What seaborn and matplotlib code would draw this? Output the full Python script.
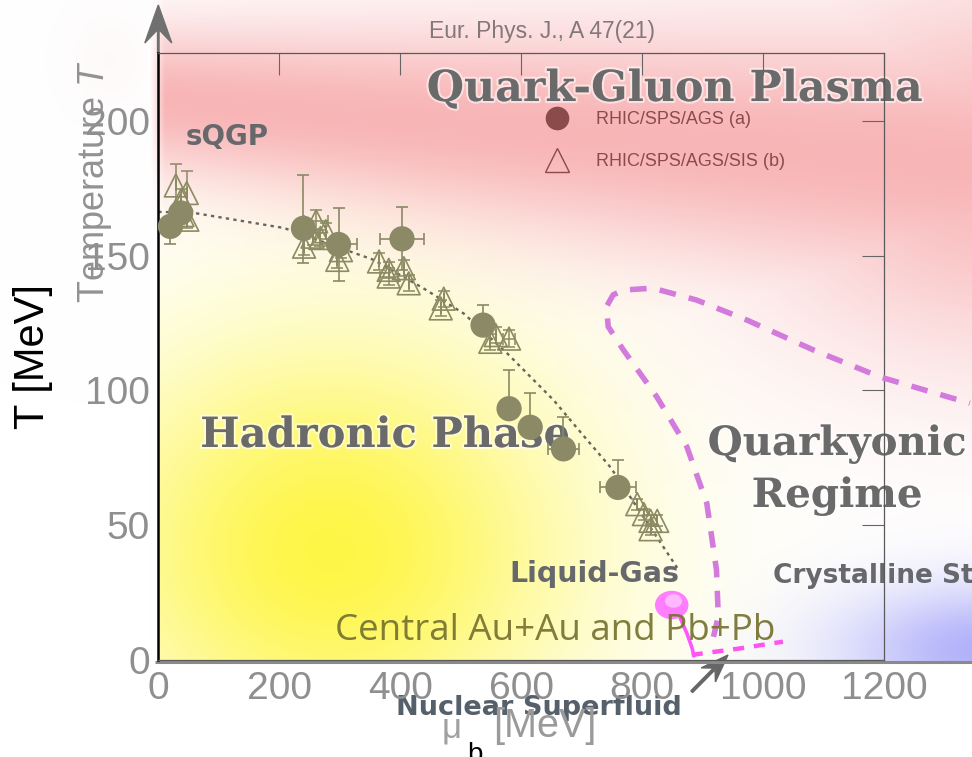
import numpy as np
import matplotlib
matplotlib.use("Agg")
import matplotlib.pyplot as plt
import matplotlib.patheffects as pe
from matplotlib.patches import Ellipse, FancyArrow
from matplotlib.lines import Line2D
import seaborn as sns

sns.set_theme(style="white")
plt.rcParams["font.family"] = ["Liberation Sans", "DejaVu Sans"]
plt.rcParams["mathtext.fontset"] = "custom"
plt.rcParams["mathtext.rm"] = "Liberation Sans"
plt.rcParams["mathtext.it"] = "Liberation Sans:italic"

# ---------------- data ----------------
# (a) RHIC/SPS/AGS  - filled circles
mu_a = [20, 37, 240, 298, 403, 537, 580, 615, 670, 760]
T_a = [160.8, 165.8, 160.1, 154.1, 156.2, 124.2, 93.2, 86.3, 78.3, 64.0]
T_a_lo = [6.4, 0, 12.9, 13.4, 11.5, 0, 0, 0, 0, 0]
T_a_hi = [0, 0, 19.7, 13.4, 11.7, 7.4, 14.2, 12.8, 11.8, 10.0]
mu_a_err = [0, 0, 0, 30, 36, 0, 15, 15, 25, 30]

# (b) RHIC/SPS/AGS/SIS - open triangles
mu_b = [29, 47, 38, 40, 48, 241, 255, 261, 268, 277, 296, 302,
        365, 381, 381, 406, 414, 467, 472, 549, 558, 580,
        792, 803, 814, 825, 814]
T_b = [176, 173.2, 170.7, 165, 163.3, 153.3, 157, 162.7, 156.5, 159, 148.4, 152,
       147.8, 144.7, 142.2, 145.3, 139.7, 130.4, 134, 118, 120.5, 119.2,
       57.8, 54.1, 51.6, 51.6, 48.5]
T_b_err = [8, 8, 4, 3, 3, 3, 3, 4.3, 3, 3, 3, 3,
           3, 3, 3, 3, 3, 3, 3, 3, 3, 3,
           2, 2, 2, 2, 2]
mu_b_err = [0, 0, 0, 0, 0, 0, 0, 20, 0, 0, 0, 0,
            0, 0, 15, 0, 0, 0, 0, 0, 0, 10,
            0, 0, 0, 0, 0]

# chemical freeze-out curve (dotted)
mu_fo = [0, 59, 208, 356, 438, 505, 577, 654, 700, 748, 780, 858]
T_fo = [166.2, 165.8, 160.2, 148.4, 137.9, 128.5, 113.7, 96.3, 84.0, 71.4, 60.6, 34.2]

# quarkyonic boundary (dashed orchid)
mu_q = [918, 926, 923, 907, 874, 824, 769, 744, 741, 752, 769, 818, 890, 973, 1083, 1193, 1342]
T_q = [8.6, 16.1, 33.4, 58.1, 79.1, 97.7, 115, 123.6, 131, 135.4, 137.2, 137.9, 133.5, 126.1, 115, 105, 95.2]

# liquid-gas line (bright magenta)
mu_lg = [857, 862, 874, 882, 886]
T_lg = [19.8, 16.1, 9.9, 4.9, 1.5]
mu_lgd = [882, 962, 1033]
T_lgd = [1.9, 4.3, 6.8]
lg_point = (849, 20.4)

xticks = [0, 200, 400, 600, 800, 1000, 1200]
yticks = [0, 50, 100, 150, 200]
legend_labels = ["RHIC/SPS/AGS (a)", "RHIC/SPS/AGS/SIS (b)"]

# ---------------- figure ----------------
W, H = 972, 757
fig = plt.figure(figsize=(W / 100, H / 100), dpi=100)

# background "phase diagram" image
bg = fig.add_axes([0, 0, 1, 1], zorder=0)
bg.set_xlim(0, W)
bg.set_ylim(H, 0)
bg.axis("off")

X, Y = np.meshgrid(np.arange(W) + 0.5, np.arange(H) + 0.5)
img = np.ones((H, W, 3))
yellow = np.array([255, 246, 70]) / 255
pink = np.array([247, 168, 170]) / 255
blue = np.array([168, 168, 250]) / 255
wy = np.exp(-(((X - 330) / 240) ** 2 + ((Y - 550) / 210) ** 2))
cen = 100 + 0.08 * (X - 158)
wid = 75 + 0.085 * (X - 158)
band = np.exp(-((Y - cen) / wid) ** 2)
corner = np.exp(-(((X - 1000) / 260) ** 2 + ((Y - 170) / 190) ** 2))
wp = np.maximum(band * 0.85, corner * 0.8)
wp *= np.clip((X - 150) / 15, 0, 1)
wb = 0.9 * np.exp(-(((X - 990) / 150) ** 2 + ((Y - 650) / 65) ** 2))
mask = ((X >= 158) & (Y <= 662)).astype(float)
for col, w in ((yellow, wy * mask), (pink, wp * (Y <= 662)), (blue, wb * mask)):
    w = w[..., None]
    img = img * (1 - w) + col * w
# faint pink halo at the top-left of the image
halo = 0.06 * np.exp(-(((X - 110) / 50) ** 2 + ((Y - 60) / 60) ** 2)) * (X < 158)
img = img * (1 - halo[..., None]) + pink * halo[..., None]
bg.imshow(img, extent=[0, W, H, 0], aspect="auto", interpolation="bilinear", zorder=0)

glow = [pe.withStroke(linewidth=3, foreground="white", alpha=0.55)]
serif = dict(family="DejaVu Serif", weight="bold", color="#6a6a6a", path_effects=glow)
sansb = dict(family="DejaVu Sans", weight="bold", color="#66686c")

bg.text(675, 101, "Quark-Gluon Plasma", fontsize=30.8, ha="center", va="baseline", **serif)
bg.text(385, 447, "Hadronic Phase", fontsize=30, ha="center", va="baseline", **serif)
bg.text(837, 455, "Quarkyonic", fontsize=29, ha="center", va="baseline", **serif)
bg.text(837, 507, "Regime", fontsize=29, ha="center", va="baseline", **serif)
bg.text(227, 145, "sQGP", fontsize=20, ha="center", va="baseline", **sansb)
bg.text(594, 582, "Liquid-Gas", fontsize=20.5, ha="center", va="baseline", **sansb)
bg.text(773, 583, "Crystalline State", fontsize=19, ha="left", va="baseline", **sansb)
bg.text(539, 715, "Nuclear Superfluid", fontsize=19.5, ha="center", va="baseline",
        family="DejaVu Sans", weight="bold", color="#56606b")
bg.text(95, 181, r"Temperature $T$", fontsize=26, rotation=90, ha="center", va="center",
        color="#929292")
bg.text(452, 737, "μ", fontsize=25, ha="center", va="baseline", color="#a0a0a0")
bg.text(475, 762, "b", fontsize=20, ha="center", va="baseline", color="black")
bg.text(545, 737, "[MeV]", fontsize=28.5, ha="center", va="baseline", color="#9a9a9a")

bg.plot([155, W], [662, 662], color="#8a8a8a", lw=2.2, solid_capstyle="butt")
bg.add_patch(FancyArrow(158.3, 53, 0, -48, width=1.5, head_width=27, head_length=38,
                        overhang=0.35, length_includes_head=True, color="#707070"))
bg.add_patch(FancyArrow(691.7, 691.7, 36.3, -36.7, width=2.5, head_width=20, head_length=28,
                        overhang=0.3, length_includes_head=True, color="#666666"))

# ---------------- main axes ----------------
ax = fig.add_axes([158.3 / W, 1 - 660 / H, (884 - 158.3) / W, (660 - 53.3) / H], zorder=1)
ax.set_facecolor("none")
ax.set_xlim(0, 1200)
ax.set_ylim(0, 225)

c_dat = "#8b8966"
c_tri = "#8b8a62"

sns.lineplot(x=mu_fo, y=T_fo, ax=ax, estimator=None, sort=False, color="#66665a",
             lw=1.7, linestyle=(0, (1.4, 1.8)), zorder=2)
ax.errorbar(mu_b, T_b, yerr=T_b_err, xerr=mu_b_err, fmt="none", ecolor=c_tri,
            elinewidth=1.1, capsize=4, capthick=1.1, zorder=3)
sns.scatterplot(x=mu_b, y=T_b, ax=ax, marker="^", s=270, facecolor="none",
                edgecolor=c_tri, linewidth=1.2, zorder=3)
ax.errorbar(mu_a, T_a, yerr=[T_a_lo, T_a_hi], xerr=mu_a_err, fmt="none", ecolor=c_dat,
            elinewidth=1.2, capsize=4, capthick=1.2, zorder=4)
sns.scatterplot(x=mu_a, y=T_a, ax=ax, marker="o", s=330, color=c_dat, edgecolor="none",
                zorder=5)

sns.lineplot(x=mu_q, y=T_q, ax=ax, estimator=None, sort=False, color="#d27bdc",
             lw=4, linestyle=(0, (3, 2.4)), clip_on=False, zorder=3)
sns.lineplot(x=mu_lgd, y=T_lgd, ax=ax, estimator=None, sort=False, color="#ff55f0",
             lw=3.2, linestyle=(0, (2.5, 2.2)), clip_on=False, zorder=3)
sns.lineplot(x=mu_lg, y=T_lg, ax=ax, estimator=None, sort=False, color="#ff55ff",
             lw=2.6, clip_on=False, zorder=3)
ax.add_patch(Ellipse(lg_point, 53, 10, color="#ff7dff", zorder=4))
ax.add_patch(Ellipse((lg_point[0] + 3, lg_point[1] + 1.5), 26, 4.5, color="#ffb8ff", zorder=4))

ax.text(656, 7.4, "Central Au+Au and Pb+Pb", fontsize=26.5, family="Open Sans",
        color="#767230", alpha=0.92, ha="center", va="baseline", zorder=6)

handles = [Line2D([], [], ls="none", marker="o", markersize=17, color="#8c4b4b", mec="none"),
           Line2D([], [], ls="none", marker="^", markersize=17, mfc="none", mec="#8c4b4b", mew=1)]
ax.legend(handles, legend_labels, loc="center left", bbox_to_anchor=(0.514, 0.856),
          frameon=False, fontsize=13, labelcolor="#8c4b4b", handlelength=2,
          handletextpad=1.2, labelspacing=1.4, borderpad=0.4, borderaxespad=0)

ax.set_xticks(xticks)
ax.set_yticks(yticks)
ax.tick_params(axis="both", which="both", direction="in", length=16, width=0.8,
               color="#666666", top=True, right=True, labelsize=28, labelcolor="#8f8f8f")
ax.tick_params(axis="x", pad=8)
ax.tick_params(axis="y", pad=6)
for side in ("top", "right", "bottom"):
    ax.spines[side].set_color("#5a5a5a")
    ax.spines[side].set_linewidth(0.9)
ax.spines["left"].set_color("black")
ax.spines["left"].set_linewidth(1.8)

ax.set_ylabel("T [MeV]", fontsize=30, color="black")
ax.yaxis.set_label_coords(-0.145, 0.5)
ax.set_xlabel("")
ax.set_title("Eur. Phys. J., A 47(21)", x=0.529, pad=11, fontsize=16.5, color="#857878")

fig.savefig("out.png", dpi=100)
